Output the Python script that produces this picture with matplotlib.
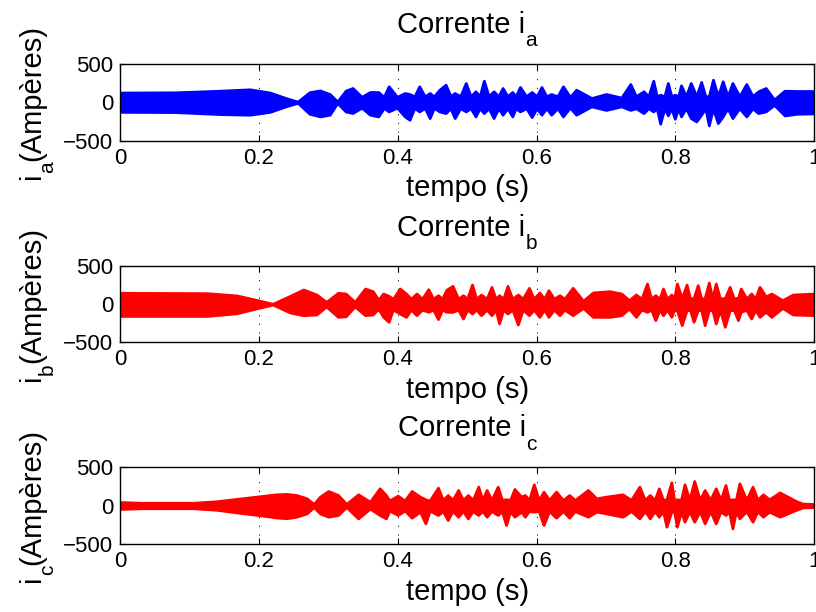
import numpy as np
import matplotlib
matplotlib.use('Agg')
import matplotlib.pyplot as plt

plt.rcParams['font.family'] = ['Liberation Sans', 'DejaVu Sans']
plt.rcParams['axes.unicode_minus'] = True

# envelope of each phase current (time in s, upper / lower limit in A)
t_a = [0.000, 0.080, 0.144, 0.187, 0.216, 0.240, 0.256, 0.273, 0.288, 0.302, 0.313, 0.325,
       0.335, 0.348, 0.360, 0.372, 0.380, 0.387, 0.399, 0.410, 0.417, 0.424, 0.431, 0.439,
       0.446, 0.452, 0.460, 0.469, 0.476, 0.482, 0.490, 0.498, 0.505, 0.512, 0.518, 0.524,
       0.531, 0.538, 0.545, 0.551, 0.558, 0.565, 0.570, 0.576, 0.585, 0.593, 0.600, 0.607,
       0.614, 0.621, 0.630, 0.638, 0.648, 0.657, 0.679, 0.700, 0.722, 0.735, 0.743, 0.754,
       0.761, 0.768, 0.773, 0.778, 0.784, 0.789, 0.794, 0.799, 0.804, 0.808, 0.815, 0.822,
       0.830, 0.837, 0.843, 0.848, 0.854, 0.861, 0.868, 0.875, 0.882, 0.892, 0.902, 0.911,
       0.919, 0.930, 0.942, 0.957, 0.975, 1.000]
up_a = [125, 128, 149, 167, 125, 50, 8, 130, 153, 106, 10, 150,
        184, 70, 132, 132, 70, 206, 70, 119, 106, 75, 206, 75,
        119, 75, 162, 227, 78, 119, 78, 249, 78, 141, 78, 279,
        78, 141, 78, 184, 78, 132, 78, 197, 78, 132, 78, 197,
        78, 106, 78, 206, 70, 162, 54, 106, 60, 236, 78, 141,
        78, 279, 78, 97, 78, 249, 78, 97, 78, 219, 78, 249,
        78, 262, 78, 78, 292, 78, 271, 78, 249, 78, 236, 80,
        141, 184, 35, 149, 145, 145]
lo_a = [-125, -128, -154, -162, -125, -50, -8, -150, -184, -162, -10, -120,
        -140, -70, -162, -184, -75, -119, -70, -184, -227, -75, -119, -75,
        -206, -75, -119, -141, -78, -206, -78, -119, -78, -184, -78, -141,
        -78, -206, -78, -162, -78, -184, -78, -119, -78, -193, -78, -162,
        -78, -162, -78, -184, -70, -162, -54, -100, -54, -100, -78, -141,
        -78, -119, -78, -279, -78, -171, -78, -214, -78, -184, -78, -206,
        -249, -162, -78, -301, -80, -271, -184, -78, -206, -78, -184, -80,
        -141, -119, -35, -171, -150, -145]

t_b = [0.000, 0.125, 0.168, 0.197, 0.220, 0.245, 0.264, 0.283, 0.297, 0.314, 0.325, 0.338,
       0.353, 0.364, 0.372, 0.379, 0.387, 0.393, 0.403, 0.412, 0.419, 0.427, 0.435, 0.444,
       0.451, 0.458, 0.464, 0.470, 0.479, 0.487, 0.494, 0.500, 0.507, 0.513, 0.520, 0.528,
       0.535, 0.541, 0.546, 0.552, 0.558, 0.565, 0.573, 0.580, 0.589, 0.596, 0.604, 0.611,
       0.617, 0.625, 0.633, 0.640, 0.652, 0.667, 0.681, 0.705, 0.722, 0.733, 0.743, 0.751,
       0.759, 0.765, 0.771, 0.777, 0.782, 0.788, 0.794, 0.798, 0.802, 0.809, 0.816, 0.821,
       0.826, 0.832, 0.837, 0.842, 0.848, 0.853, 0.858, 0.864, 0.871, 0.878, 0.884, 0.890,
       0.894, 0.902, 0.909, 0.915, 0.921, 0.930, 0.938, 0.954, 0.969, 1.000]
up_b = [150, 145, 115, 55, 5, 110, 193, 127, 30, 150, 140, 30,
        206, 171, 60, 140, 110, 70, 206, 140, 72, 140, 72, 197,
        72, 118, 72, 190, 241, 72, 118, 72, 259, 72, 127, 72,
        228, 72, 118, 72, 241, 72, 127, 72, 215, 72, 154, 72,
        184, 72, 118, 72, 215, 45, 154, 171, 140, 53, 127, 72,
        272, 72, 118, 72, 206, 72, 127, 75, 272, 80, 259, 75,
        80, 250, 75, 80, 285, 75, 272, 75, 80, 228, 75, 85,
        206, 75, 140, 75, 228, 100, 140, 53, 127, 140]
lo_b = [-155, -155, -120, -55, -5, -110, -145, -136, -30, -167, -160, -30,
        -145, -136, -60, -167, -232, -70, -123, -167, -72, -145, -72, -101,
        -72, -197, -72, -100, -101, -72, -189, -72, -123, -72, -145, -72,
        -145, -72, -254, -72, -123, -72, -268, -72, -145, -72, -167, -72,
        -167, -72, -145, -72, -145, -50, -167, -167, -145, -57, -167, -72,
        -101, -72, -211, -72, -145, -72, -167, -75, -80, -276, -80, -75,
        -232, -80, -75, -276, -80, -75, -254, -75, -298, -80, -75, -211,
        -100, -75, -189, -75, -167, -100, -167, -50, -136, -145]

t_c = [0.000, 0.033, 0.105, 0.139, 0.177, 0.201, 0.225, 0.240, 0.254, 0.269, 0.279, 0.288,
       0.300, 0.314, 0.326, 0.343, 0.360, 0.374, 0.383, 0.388, 0.400, 0.410, 0.420, 0.432,
       0.440, 0.446, 0.458, 0.465, 0.472, 0.479, 0.487, 0.494, 0.501, 0.508, 0.516, 0.522,
       0.528, 0.535, 0.544, 0.550, 0.556, 0.562, 0.568, 0.578, 0.583, 0.589, 0.596, 0.603,
       0.610, 0.618, 0.628, 0.638, 0.647, 0.655, 0.674, 0.686, 0.700, 0.724, 0.736, 0.748,
       0.756, 0.763, 0.770, 0.776, 0.782, 0.787, 0.794, 0.798, 0.802, 0.808, 0.813, 0.820,
       0.827, 0.835, 0.842, 0.850, 0.858, 0.865, 0.872, 0.877, 0.882, 0.887, 0.892, 0.902,
       0.911, 0.918, 0.926, 0.935, 0.950, 0.974, 0.983, 1.000]
up_c = [45, 35, 35, 55, 95, 120, 145, 150, 136, 93, 20, 115,
        188, 136, 20, 145, 50, 223, 136, 65, 128, 65, 188, 115,
        80, 65, 232, 72, 136, 72, 201, 72, 136, 72, 245, 72,
        201, 72, 245, 75, 80, 75, 214, 115, 136, 72, 275, 72,
        180, 72, 180, 72, 136, 72, 201, 93, 115, 145, 72, 245,
        72, 136, 72, 223, 72, 80, 301, 75, 80, 75, 275, 75,
        318, 75, 201, 75, 223, 75, 266, 75, 80, 75, 288, 75,
        245, 75, 145, 80, 170, 55, 25, 20]
lo_c = [-45, -35, -35, -55, -100, -125, -155, -165, -145, -102, -20, -102,
        -145, -123, -20, -167, -40, -123, -167, -65, -123, -65, -158, -80,
        -232, -65, -123, -72, -188, -72, -145, -72, -167, -72, -123, -72,
        -145, -72, -123, -75, -253, -75, -145, -80, -145, -72, -80, -72,
        -253, -72, -158, -72, -158, -72, -145, -80, -102, -145, -72, -167,
        -72, -167, -72, -145, -72, -275, -80, -75, -275, -75, -210, -75,
        -210, -75, -232, -75, -232, -75, -123, -75, -297, -75, -167, -75,
        -210, -75, -145, -80, -145, -55, -25, -20]

phases = ['a', 'b', 'c']
colors = ['#0000ff', '#ff0000', '#ff0000']
series = [(t_a, up_a, lo_a), (t_b, up_b, lo_b), (t_c, up_c, lo_c)]

FS = 21      # main label size
FS_SUB = 15  # subscript size
PX2PT = 72 / 100

fig = plt.figure(figsize=(8.16, 6.12), dpi=100)
renderer = fig.canvas.get_renderer()


def text_width(s, fs):
    t = fig.text(0, 0, s, fontsize=fs)
    w = t.get_window_extent(renderer).width
    t.remove()
    return w


def title_sub(ax, main, sub):
    # MATLAB-like subscript: same baseline drop as the reference
    w1, w2 = text_width(main, FS), text_width(sub, FS_SUB)
    x0 = -(w1 + w2) / 2
    kw = dict(xy=(0.5, 1), xycoords='axes fraction', textcoords='offset points',
              ha='left', va='baseline')
    ax.annotate(main, xytext=(x0 * PX2PT, 22), fontsize=FS, **kw)
    ax.annotate(sub, xytext=((x0 + w1) * PX2PT, 12.5), fontsize=FS_SUB, **kw)


def ylabel_sub(ax, head, sub, tail):
    w1, w2, w3 = text_width(head, FS), text_width(sub, FS_SUB), text_width(tail, FS)
    y0 = -(w1 + w2 + w3) / 2
    kw = dict(xy=(0, 0.5), xycoords='axes fraction', textcoords='offset points',
              ha='left', va='baseline', rotation=90, rotation_mode='anchor')
    ax.annotate(head, xytext=(-80 * PX2PT, y0 * PX2PT), fontsize=FS, **kw)
    ax.annotate(sub, xytext=(-67 * PX2PT, (y0 + w1) * PX2PT), fontsize=FS_SUB, **kw)
    ax.annotate(tail, xytext=(-80 * PX2PT, (y0 + w1 + w2) * PX2PT), fontsize=FS, **kw)


# axes boxes in figure fractions, matched to the reference layout
boxes = [[0.147, 0.770, 0.851, 0.126],
         [0.147, 0.441, 0.851, 0.124],
         [0.147, 0.111, 0.851, 0.126]]

for box, (t, up, lo), col, ph in zip(boxes, series, colors, phases):
    ax = fig.add_axes(box)
    ax.fill_between(t, lo, up, color=col, edgecolor=col, linewidth=2.0, joinstyle='round')
    ax.set_xlim(0, 1)
    ax.set_ylim(-500, 500)
    ax.set_xticks([0, 0.2, 0.4, 0.6, 0.8, 1])
    ax.set_xticklabels(['0', '0.2', '0.4', '0.6', '0.8', '1'])
    ax.set_yticks([-500, 0, 500])
    ax.tick_params(direction='in', top=True, right=True, length=4, width=0.8,
                   labelsize=16, pad=5)
    ax.grid(True, color='k', linestyle=(0, (1.5, 9)), linewidth=0.6)
    ax.set_axisbelow(True)
    for s in ax.spines.values():
        s.set_linewidth(1.0)
    ax.set_xlabel('tempo (s)', fontsize=FS, labelpad=4)
    title_sub(ax, 'Corrente i', ph)
    ylabel_sub(ax, 'i', ph, '(Ampères)')

fig.savefig('out.png', dpi=100)
